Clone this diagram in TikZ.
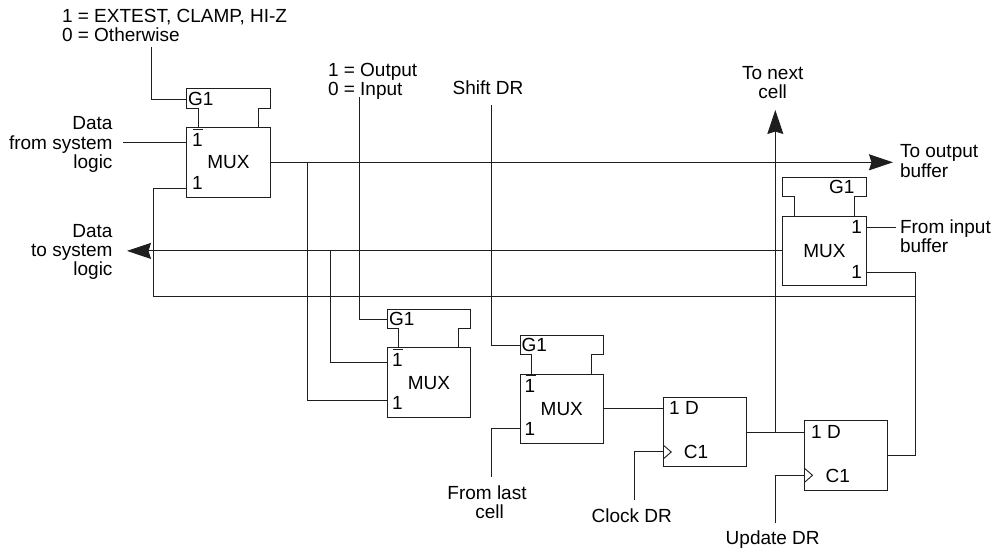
\documentclass[tikz,border=0pt]{standalone}
\usepackage{fontspec}
\setmainfont{Liberation Sans}
\usepackage{xcolor}
\usepackage{tikz}
\usetikzlibrary{arrows.meta,calc}
\definecolor{wirecol}{RGB}{30,30,30}

\begin{document}
\begin{tikzpicture}[x=1pt, y=-1pt, font=\fontsize{19}{19.3}\selectfont]
    \tikzstyle{wire}=[draw=wirecol, line width=0.9pt]
    \tikzstyle{arrow}=[wire, -{Stealth[length=24pt, width=16pt, inset=2.5pt]}]
    \tikzstyle{cell}=[wire, minimum width=83.4pt, minimum height=69.4pt, inner sep=0pt, outer sep=0pt]
    \tikzstyle{txt}=[inner sep=0pt, outer sep=0pt]
    \useasboundingbox (0,0) rectangle (1000,551);

    % multiplexers and flip-flops
    \node[cell] (M1) at (228.4,162.3) {MUX};
    \node[cell] (M2) at (429,382.6) {MUX};
    \node[cell] (M3) at (561.8,408.8) {MUX};
    \node[cell] (M4) at (824.4,250.9) {MUX};
    \node[cell] (F1) at (704.9,432) {};
    \node[cell] (F2) at (846.2,455.3) {};

    % gate boxes
    \draw[wire] ($(M1.north west)+(11.5,0)$) -- ++(0,-19.5) -- ++(-11.5,0) -- ++(0,-19.4)
      -- ++(83.4,0) -- ++(0,19.4) -- ++(-12,0) -- ++(0,19.5);
    \draw[wire] ($(M2.north west)+(11.5,0)$) -- ++(0,-19.5) -- ++(-11.5,0) -- ++(0,-19.4)
      -- ++(83.4,0) -- ++(0,19.4) -- ++(-12,0) -- ++(0,19.5);
    \draw[wire] ($(M3.north west)+(11.5,0)$) -- ++(0,-19.5) -- ++(-11.5,0) -- ++(0,-19.4)
      -- ++(83.4,0) -- ++(0,19.4) -- ++(-12,0) -- ++(0,19.5);
    \draw[wire] ($(M4.north west)+(11.5,0)$) -- ++(0,-19.5) -- ++(-11.5,0) -- ++(0,-19.4)
      -- ++(83.4,0) -- ++(0,19.4) -- ++(-12,0) -- ++(0,19.5);

    \node[txt] (G1a) at (200.7,99) {G1};
    \node[txt] (G2a) at (401.7,319) {G1};
    \node[txt] (G3a) at (534.3,345) {G1};
    \node[txt] (G4a) at (841.7,187) {G1};

    % pin numbers
    \node[txt] (M1a) at (197.3,140) {1};
    \node[txt] (M1b) at (197.3,182.7) {1};
    \node[txt] (M2a) at (397.3,360) {1};
    \node[txt] (M2b) at (397.3,403.3) {1};
    \node[txt] (M3a) at (530,386) {1};
    \node[txt] (M3b) at (530,429.3) {1};
    \node[txt] (M4a) at (856.7,227) {1};
    \node[txt] (M4b) at (856.7,271.7) {1};
    \draw[wire] ($(M1a)+(-4.5,-10.5)$) -- ++(10,0);
    \draw[wire] ($(M2a)+(-4.5,-10.5)$) -- ++(10,0);
    \draw[wire] ($(M3a)+(-4.5,-10.5)$) -- ++(10,0);
    \draw[wire] ($(M4a)+(-4.5,-10.5)$) -- ++(10,0);

    \node[txt] (F1d) at (684,408) {1 D};
    \node[txt] (F1c) at (696,451.7) {C1};
    \node[txt] (F2d) at (826,432) {1 D};
    \node[txt] (F2c) at (837.7,475.7) {C1};

    % clock triangles
    \draw[wire] ($(F1.south west)+(0,-21.7)$) -- ++(8,7) -- ++(-8,7);
    \draw[wire] ($(F2.south west)+(0,-21.7)$) -- ++(8,7) -- ++(-8,7);

    % labels
    \node[txt, anchor=west, align=left] (modeLbl) at (62,25.5) {1 = EXTEST, CLAMP, HI-Z\\0 = Otherwise};
    \node[txt, anchor=east, align=right] (fromSys) at (112.5,144.5) {Data\\from system\\logic};
    \node[txt, anchor=east, align=right] (toSys) at (112.5,252) {Data\\to system\\logic};
    \node[txt, anchor=west, align=left] (dirLbl) at (328,81) {1 = Output\\0 = Input};
    \node[txt] (shiftLbl) at (488,88) {Shift DR};
    \node[txt, align=center] (nextLbl) at (772.7,82.5) {To next\\cell};
    \node[txt, anchor=west, align=left] (outLbl) at (900,161) {To output\\buffer};
    \node[txt, anchor=west, align=left] (inLbl) at (900,236) {From input\\buffer};
    \node[txt, align=center] (lastLbl) at (487,502) {From last\\\hspace*{5pt}cell};
    \node[txt] (clockLbl) at (631.7,515.7) {Clock DR};
    \node[txt] (updateLbl) at (772.7,539.3) {Update DR};

    % free wire ends
    \coordinate (modeEnd) at (151.8,47);
    \coordinate (sysEnd) at (123,142);
    \coordinate (dirEnd) at (359,97);
    \coordinate (shiftEnd) at (491.3,105);
    \coordinate (lastEnd) at (491.3,476.7);
    \coordinate (clockEnd) at (634,500);
    \coordinate (updateEnd) at (775.3,523);
    \coordinate (inEnd) at (895.7,227.3);
    \coordinate (outTip) at (893,162.3);
    \coordinate (nextTip) at (775.3,110);
    \coordinate (sysTip) at (127,250.9);

    % connectors
    \draw[wire] (modeEnd) |- (G1a.west -| M1.west);
    \draw[wire] (sysEnd) -- (sysEnd -| M1.west);
    \draw[wire] (dirEnd) |- (G2a.west -| M2.west);
    \draw[wire] (shiftEnd) |- (G3a.west -| M3.west);
    \draw[wire] (inEnd) -- (inEnd -| M4.east);
    \draw[arrow] (M1.east) -- (outTip);
    \draw[arrow] (M4.west) -- (sysTip);
    \draw[wire] (outTip -| 307.4,0) -- (307.4,400) -- (M2.west |- 0,400);
    \draw[wire] (330.7,250.9) -- (330.7,362) -- (M2.west |- 0,362);
    \draw[wire] (lastEnd) |- (M3.west |- 0,428.3);
    \draw[wire] (M3.east) -- (M3.east -| F1.west);
    \draw[wire] (F1.east) -- (F1.east -| F2.west);
    \draw[arrow] (F1.east -| nextTip) -- (nextTip);
    \draw[wire] (clockEnd) |- (F1.west |- 0,451.7);
    \draw[wire] (updateEnd) |- (F2.west |- 0,475.3);
    \draw[wire] (M1.west |- 0,188.7) -- (153.3,188.7) -- (153.3,296.4) -- (915,296.4);
    \draw[wire] (M4.east |- 0,272.7) -- (915,272.7) |- (F2.east);
\end{tikzpicture}
\end{document}
